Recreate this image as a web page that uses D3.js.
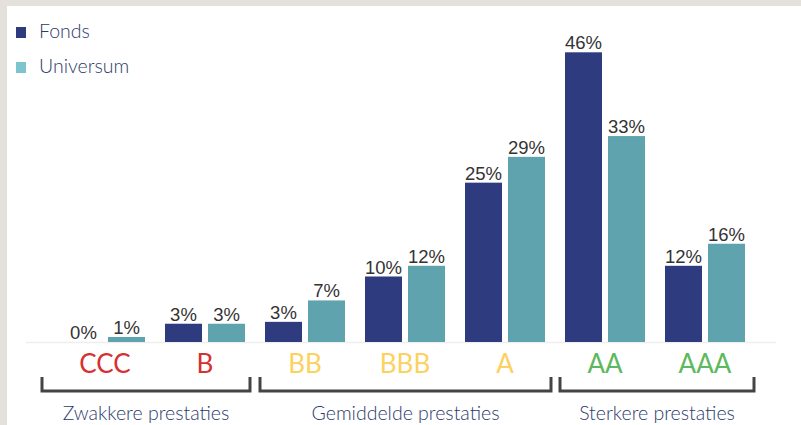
<!DOCTYPE html>
<html><head><meta charset="utf-8">
<script src="https://cdn.jsdelivr.net/npm/d3@7"></script>
<style>html,body{margin:0;padding:0;background:#e4e0dc;}svg{display:block;}</style>
</head><body>
<svg id="chart" width="801" height="425"></svg>
<script>
const categories = ["CCC","B","BB","BBB","A","AA","AAA"];
const categoryColors = ["#d63031","#d63031","#fdd15e","#fdd15e","#fdd15e","#5db95d","#5db95d"];
const seriesNames = ["Fonds","Universum"];
const fonds = [0,2.9,3.2,10.4,25.3,46,12.1];
const universum = [0.8,2.9,6.6,12.1,29.4,32.7,15.6];
const seriesColors = ["#2e3b7e","#5fa3ae"];
const legendColors = ["#2e3b7e","#7ec4ce"];
const groups = [
  {label:"Zwakkere prestaties", from:"CCC", to:"B"},
  {label:"Gemiddelde prestaties", from:"BB", to:"A"},
  {label:"Sterkere prestaties", from:"AA", to:"AAA"}
];

const svg = d3.select("#chart");
svg.append("rect").attr("x",7).attr("y",6).attr("width",794).attr("height",419).attr("fill","#fff");

const x = d3.scaleBand().domain(categories).range([55,755]).paddingInner(0.2).paddingOuter(0.1);
const xs = d3.scaleBand().domain(seriesNames).range([0,x.bandwidth()]).paddingInner(0.14);
const y = d3.scaleLinear().domain([0,46]).range([342,52.3]);
const fmt = d3.format(".0f");

// baseline
svg.append("line").attr("x1",26).attr("x2",776).attr("y1",y(0)+0.5).attr("y2",y(0)+0.5)
  .attr("stroke","#eeeeee").attr("stroke-width",1.5);

const data = categories.map((c,i)=>({cat:c, vals:[fonds[i],universum[i]]}));
const g = svg.selectAll("g.cat").data(data).join("g").attr("class","cat")
  .attr("transform",d=>`translate(${x(d.cat)},0)`);

g.selectAll("rect").data(d=>d.vals.map((v,j)=>({v,s:seriesNames[j],j})))
  .join("rect")
  .attr("x",d=>xs(d.s)).attr("width",xs.bandwidth())
  .attr("y",d=>y(d.v)).attr("height",d=>y(0)-y(d.v))
  .attr("fill",d=>seriesColors[d.j]);

g.selectAll("text.val").data(d=>d.vals.map((v,j)=>({v,s:seriesNames[j],j})))
  .join("text").attr("class","val")
  .attr("x",d=>xs(d.s)+xs.bandwidth()/2).attr("y",d=>y(d.v)-3)
  .attr("text-anchor","middle").attr("font-family","'Liberation Sans', Arial, sans-serif")
  .attr("font-size",18.5).attr("fill","#333").text(d=>fmt(d.v)+"%");

// category labels
svg.selectAll("text.cat").data(categories).join("text").attr("class","cat")
  .attr("x",d=>x(d)+x.bandwidth()/2).attr("y",373)
  .attr("text-anchor","middle").attr("font-family","Lato, sans-serif").attr("font-size",26)
  .attr("fill",(d,i)=>categoryColors[i]).text(d=>d);

// brackets (extra reach beyond the outer bars of each group)
const bracketPad = [[23,5],[5,6],[5,9]];
groups.forEach((gr,i)=>{
  const x0 = x(gr.from) - bracketPad[i][0];
  const x1 = x(gr.to) + x.bandwidth() + bracketPad[i][1];
  const top = 377, bot = 391;
  svg.append("path").attr("d",`M${x0},${top}V${bot}H${x1}V${top}`)
    .attr("fill","none").attr("stroke","#444").attr("stroke-width",3);
  svg.append("text").attr("x",(x0+x1)/2).attr("y",420).attr("text-anchor","middle")
    .attr("font-family","Lato, sans-serif").attr("font-weight",300).attr("font-size",19.5)
    .attr("fill","#2c3a6b").text(gr.label);
});

// legend
seriesNames.forEach((s,i)=>{
  const ly = 27 + i*35;
  svg.append("rect").attr("x",16).attr("y",ly).attr("width",10).attr("height",11).attr("fill",legendColors[i]);
  svg.append("text").attr("x",39).attr("y",ly+11).attr("font-family","Lato, sans-serif").attr("font-weight",300)
    .attr("font-size",19.5).attr("fill","#2c3a6b").text(s);
});
</script>
</body></html>
